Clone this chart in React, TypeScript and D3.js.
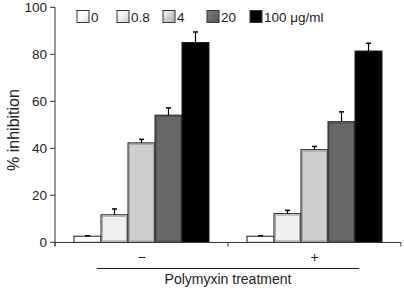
import React from "react";
import * as d3 from "d3";

const groups = ["−", "+"];
const doses = ["0", "0.8", "4", "20", "100 μg/ml"];
const colors = ["#ffffff", "#efefef", "#cfcfcf", "#686868", "#000000"];
const values = [
  [2.6, 11.7, 42.3, 54.1, 85.0],
  [2.6, 12.2, 39.4, 51.3, 81.4],
];
const errors = [
  [0.2, 2.5, 1.5, 3.1, 4.5],
  [0.2, 1.4, 1.4, 4.2, 3.3],
];
const yTicks = [0, 20, 40, 60, 80, 100];

export default function App() {
  const W = 404, H = 289;
  const x0 = d3.scaleBand().domain(groups).range([55, 401]).paddingInner(0).paddingOuter(0);
  const x1 = d3.scaleBand().domain(doses).range([19, 173 - 19]).padding(0);
  const y = d3.scaleLinear().domain([0, 100]).range([242.3, 7.3]);
  const font = "Liberation Sans, Arial, sans-serif";
  const legendX = [77, 117, 163, 207, 250];

  return (
    <svg width={W} height={H} style={{ position: "absolute", left: 0, top: 0 }} fontFamily={font}>
      <defs>
        {colors.map((c, i) => (
          <linearGradient key={i} id={`lg${i}`} x1="0" y1="0" x2="1" y2="1">
            <stop offset="0" stopColor={d3.color(c)!.brighter(0.6).formatHex()} />
            <stop offset="0.5" stopColor={c} />
            <stop offset="1" stopColor={d3.color(c)!.darker(0.5).formatHex()} />
          </linearGradient>
        ))}
      </defs>
      {/* bars */}
      {groups.map((g, gi) => (
        <g key={g} transform={`translate(${x0(g)},0)`}>
          {doses.map((d, di) => {
            const bx = x1(d)!;
            const bw = x1.bandwidth();
            const top = y(values[gi][di]);
            const h = y(0) - top;
            const et = y(values[gi][di] + errors[gi][di]);
            const cx = bx + bw / 2;
            const dark = di >= 3;
            return (
              <g key={d}>
                <rect x={bx} y={top} width={bw} height={h} fill={colors[di]} stroke="#1a1a1a" strokeWidth={1} />
                {!dark && h > 4 && (
                  <rect x={bx + 1.5} y={top + 1.5} width={bw - 3} height={h - 3} fill="none"
                    stroke={di === 0 ? "#ffffff" : "#a8a8a8"} strokeWidth={1} />
                )}
                {dark && di === 3 && (
                  <rect x={bx + 1.5} y={top + 1.5} width={bw - 3} height={h - 3} fill="none"
                    stroke="#555" strokeWidth={1} />
                )}
                <line x1={cx} x2={cx} y1={top} y2={et} stroke="#000" strokeWidth={1.2} />
                <line x1={cx - 2.5} x2={cx + 2.5} y1={et} y2={et} stroke="#000" strokeWidth={1.5} />
              </g>
            );
          })}
        </g>
      ))}
      {/* y axis */}
      <line x1={55} x2={55} y1={7} y2={246} stroke="#333" strokeWidth={1} />
      {yTicks.map((t) => (
        <g key={t}>
          <line x1={50} x2={55} y1={y(t)} y2={y(t)} stroke="#333" />
          <text x={47} y={y(t)} dy="0.35em" textAnchor="end" fontSize={13.5} fill="#222">{t}</text>
        </g>
      ))}
      <text transform="translate(19,130) rotate(-90)" textAnchor="middle" fontSize={16} fill="#222">% inhibition</text>
      {/* x axis */}
      <line x1={55} x2={401} y1={242.5} y2={242.5} stroke="#333" />
      {[55, 228, 401].map((t) => (
        <line key={t} x1={t} x2={t} y1={242.5} y2={246.5} stroke="#333" />
      ))}
      {groups.map((g) => (
        <text key={g} x={x0(g)! + x0.bandwidth() / 2} y={262} textAnchor="middle" fontSize={14} fill="#222">{g}</text>
      ))}
      <line x1={97} x2={359} y1={268.5} y2={268.5} stroke="#222" />
      <text x={228} y={284} textAnchor="middle" fontSize={14} fill="#222">Polymyxin treatment</text>
      {/* legend */}
      {doses.map((d, i) => (
        <g key={d}>
          <rect x={legendX[i]} y={10.5} width={12} height={12} fill={`url(#lg${i})`} stroke="#333" strokeWidth={1} />
          <text x={legendX[i] + 14} y={21.5} fontSize={13.5} fill="#222">{d}</text>
        </g>
      ))}
    </svg>
  );
}
